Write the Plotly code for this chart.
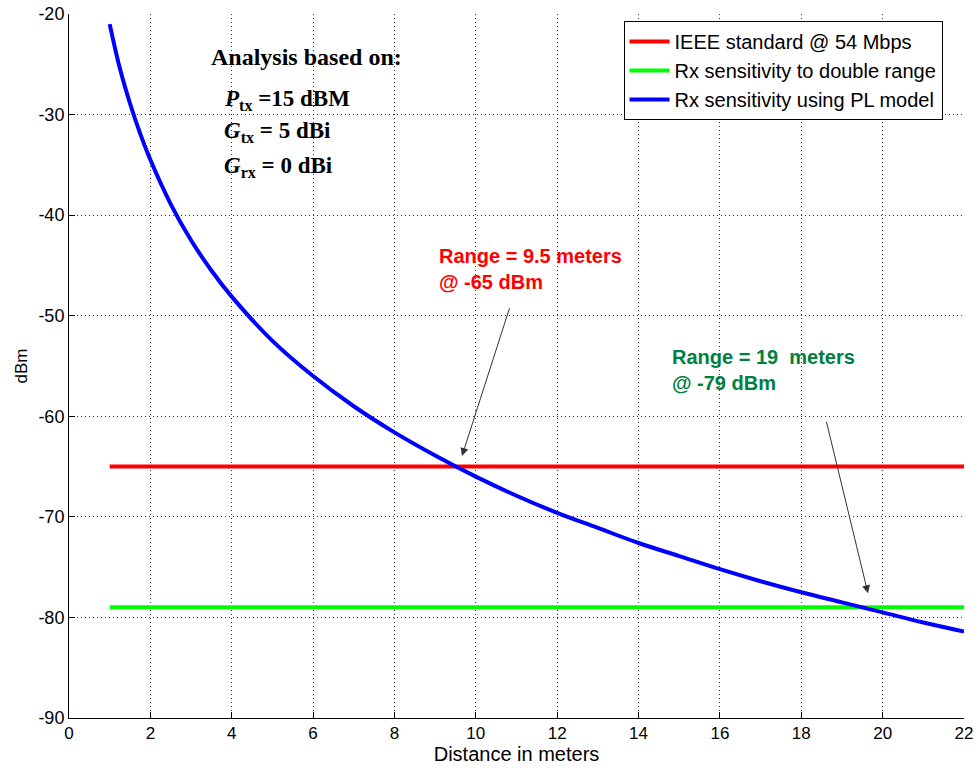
import plotly.graph_objects as go

# Data
distance = [1, 1.25, 1.5, 1.75, 2, 2.5, 3, 3.5, 4, 5, 6, 7, 8, 9, 10, 11, 12,
            13, 14, 15, 16, 17, 18, 19, 20, 21, 22]
rx_pl_model = [-21.0, -25.4, -28.9, -31.9, -34.5, -38.9, -42.5, -45.5, -48.1,
               -52.5, -56.0, -59.0, -61.6, -63.9, -66.0, -67.9, -69.6, -71.1,
               -72.6, -73.9, -75.2, -76.4, -77.5, -78.5, -79.5, -80.5, -81.4]
line_x = [1, 22]
ieee_54 = [-65, -65]
double_range = [-79, -79]

x_ticks = list(range(0, 23, 2))
y_ticks = list(range(-90, -19, 10))

fig = go.Figure()
fig.add_trace(go.Scatter(x=line_x, y=ieee_54, mode="lines",
                         line=dict(color="#FF0000", width=4),
                         name="IEEE standard @ 54 Mbps"))
fig.add_trace(go.Scatter(x=line_x, y=double_range, mode="lines",
                         line=dict(color="#00FF00", width=4),
                         name="Rx sensitivity to double range"))
fig.add_trace(go.Scatter(x=distance, y=rx_pl_model, mode="lines",
                         line=dict(color="#0000FF", width=4, shape="spline"),
                         name="Rx sensitivity using PL model"))

serif = "Liberation Serif, Times New Roman, serif"
sans = "Liberation Sans, Arial, sans-serif"

ann = [
    dict(x=5.85, y=-24.3, text="<b>Analysis based on:</b>", showarrow=False,
         font=dict(family=serif, size=24, color="black"), xanchor="center"),
    dict(x=3.76, y=-28.55, text="<b><i>P</i><sub>tx</sub> =15 dBM</b>", showarrow=False,
         font=dict(family=serif, size=23, color="black"), xanchor="left"),
    dict(x=3.76, y=-31.7, text="<b><i>G</i><sub>tx</sub> = 5 dBi</b>", showarrow=False,
         font=dict(family=serif, size=23, color="black"), xanchor="left"),
    dict(x=3.76, y=-35.2, text="<b><i>G</i><sub>rx</sub> = 0 dBi</b>", showarrow=False,
         font=dict(family=serif, size=23, color="black"), xanchor="left"),
    dict(x=9.05, y=-45.35, text="<b>Range = 9.5 meters<br>@ -65 dBm</b>", showarrow=False,
         font=dict(family=sans, size=20, color="#FF0000"), xanchor="left", align="left"),
    dict(x=14.77, y=-55.4, text="<b>Range = 19  meters<br>@ -79 dBm</b>", showarrow=False,
         font=dict(family=sans, size=20, color="#008040"), xanchor="left", align="left"),
    dict(x=9.66, y=-63.95, ax=10.84, ay=-49.1, axref="x", ayref="y", xref="x", yref="y",
         text="", showarrow=True, arrowhead=2, arrowsize=1.6, arrowwidth=1, arrowcolor="#333333"),
    dict(x=19.64, y=-77.6, ax=18.61, ay=-60.4, axref="x", ayref="y", xref="x", yref="y",
         text="", showarrow=True, arrowhead=2, arrowsize=1.6, arrowwidth=1, arrowcolor="#333333"),
]

grid_style = dict(showgrid=True, gridcolor="#333333", griddash="1px,3px", gridwidth=1)

fig.update_layout(
    width=977, height=772,
    margin=dict(l=69, r=13, t=14, b=54),
    paper_bgcolor="white", plot_bgcolor="white",
    font=dict(family=sans, size=17, color="black"),
    showlegend=True,
    legend=dict(x=0.976, y=0.99, xanchor="right", yanchor="top",
                bgcolor="white", bordercolor="black", borderwidth=1,
                font=dict(family=sans, size=20), tracegroupgap=0,
                itemwidth=40),
    annotations=ann,
    xaxis=dict(range=[0, 22], tickvals=x_ticks, ticktext=[str(v) for v in x_ticks],
               showline=True, linecolor="black", linewidth=1, mirror=False,
               ticks="inside", ticklen=6, tickcolor="black", automargin=False,
               tickfont=dict(size=17), zeroline=False,
               title=dict(text="Distance in meters", font=dict(size=20), standoff=4),
               **grid_style),
    yaxis=dict(range=[-90, -20], tickvals=y_ticks, ticktext=[str(v) for v in y_ticks],
               showline=True, linecolor="black", linewidth=1, mirror=False,
               ticks="inside", ticklen=6, tickcolor="black", automargin=False,
               tickfont=dict(size=18), zeroline=False,
               title=dict(text="dBm", font=dict(size=17), standoff=6),
               **grid_style),
)

fig.write_html("out.html")
